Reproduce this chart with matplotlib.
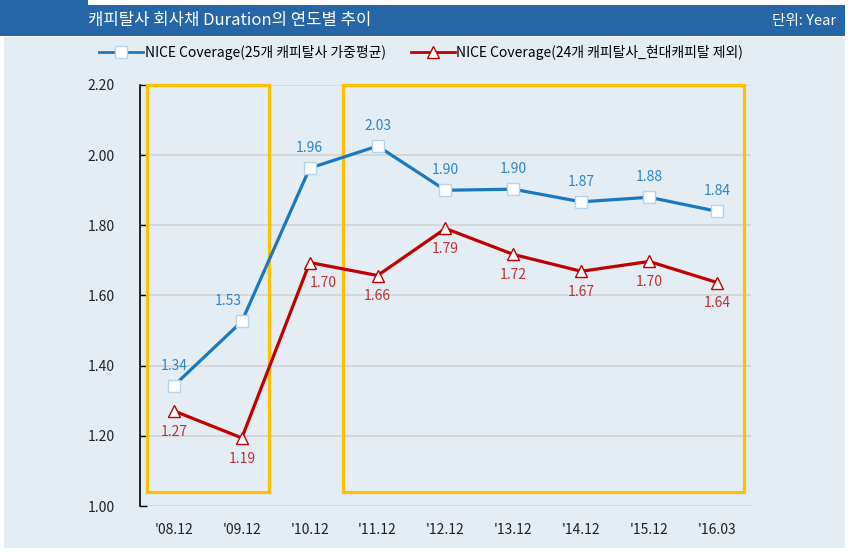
import matplotlib
matplotlib.use("Agg")
import matplotlib.pyplot as plt
from matplotlib.patches import Rectangle

plt.rcParams['font.family'] = ['Noto Sans CJK KR', 'DejaVu Sans']

categories = ["'08.12", "'09.12", "'10.12", "'11.12", "'12.12", "'13.12", "'14.12", "'15.12", "'16.03"]
avg25 = [1.34, 1.53, 1.96, 2.03, 1.90, 1.90, 1.87, 1.88, 1.84]
excl24 = [1.27, 1.19, 1.70, 1.66, 1.79, 1.72, 1.67, 1.70, 1.64]
avg25_pos = [1.343, 1.526, 1.963, 2.026, 1.900, 1.903, 1.867, 1.880, 1.840]
excl24_pos = [1.271, 1.194, 1.694, 1.657, 1.791, 1.717, 1.669, 1.697, 1.637]
yticks = [1.00, 1.20, 1.40, 1.60, 1.80, 2.00, 2.20]
label25 = "NICE Coverage(25개 캐피탈사 가중평균)"
label24 = "NICE Coverage(24개 캐피탈사_현대캐피탈 제외)"
title = "캐피탈사 회사채 Duration의 연도별 추이"
unit = "단위: Year"

W, H = 860, 556
fig = plt.figure(figsize=(W / 100, H / 100), dpi=100)
fig.patch.set_facecolor('white')

def px(x0, y0, x1, y1):
    return (x0 / W, 1 - y1 / H, (x1 - x0) / W, (y1 - y0) / H)

BLUEBAR = '#2766a6'
BG = '#e4ecf4'
# background panels
fig.patches.append(Rectangle((4 / W, 1 - 548 / H), (845 - 4) / W, (548 - 37) / H,
                             transform=fig.transFigure, facecolor=BG, edgecolor='none', zorder=-2))
fig.patches.append(Rectangle((0, 1 - 36 / H), 845 / W, 31 / H,
                             transform=fig.transFigure, facecolor=BLUEBAR, edgecolor='none', zorder=-1))
fig.patches.append(Rectangle((0, 1 - 5 / H), 88 / W, 5 / H,
                             transform=fig.transFigure, facecolor=BLUEBAR, edgecolor='none', zorder=-1))
fig.text(88 / W, 1 - 21 / H, title, color='white', fontsize=12, va='center', ha='left')
fig.text(836 / W, 1 - 21 / H, unit, color='white', fontsize=10.5, va='center', ha='right')

ax = fig.add_axes(px(140, 85, 751, 506))
ax.set_zorder(2)
ax.set_facecolor('none')
x = list(range(len(categories)))

LBLUE = '#1a78c2'
LRED = '#c00000'
ax.plot(x, avg25_pos, color=LBLUE, lw=2.3, marker='s', markersize=8,
        markerfacecolor='white', markeredgecolor='#b5d4ef', markeredgewidth=1.0,
        label=label25, zorder=5, clip_on=False)
ax.plot(x, excl24_pos, color=LRED, lw=2.3, marker='^', markersize=9,
        markerfacecolor='white', markeredgecolor=LRED, markeredgewidth=1.0,
        label=label24, zorder=5, clip_on=False)

for i, (v, p) in enumerate(zip(avg25, avg25_pos)):
    dx = -9.5 if i == 1 else 0
    ax.annotate(f"{v:.2f}", (i, p), xytext=(dx, 14.5), textcoords='offset points',
                ha='center', va='center', fontsize=10, color='#2e86c8', zorder=6)
for i, (v, p) in enumerate(zip(excl24, excl24_pos)):
    dx = 10 if i == 2 else 0
    ax.annotate(f"{v:.2f}", (i, p), xytext=(dx, -15), textcoords='offset points',
                ha='center', va='center', fontsize=10, color='#c0313a', zorder=6)

# highlight boxes
YEL = '#ffc000'
ax.add_patch(Rectangle((-0.40, 1.04), 1.80, 1.16, fill=False, edgecolor=YEL, lw=2.3, zorder=4, clip_on=False))
ax.add_patch(Rectangle((2.49, 1.04), 5.91, 1.16, fill=False, edgecolor=YEL, lw=2.3, zorder=4, clip_on=False))

ax.set_xlim(-0.5, 8.5)
ax.set_ylim(1.0, 2.2)
ax.set_yticks(yticks)
ax.set_yticklabels([f"{t:.2f}" for t in yticks], fontsize=10, color='#222222')
ax.set_xticks(x)
ax.set_xticklabels(categories, fontsize=10, color='#222222')
ax.grid(axis='y', color='#d3d3d3', lw=1.2)
ax.set_axisbelow(True)
for s in ['top', 'right', 'bottom']:
    ax.spines[s].set_visible(False)
ax.spines['left'].set_color('black')
ax.spines['left'].set_linewidth(1.2)
ax.tick_params(axis='y', direction='in', length=5, width=1.0, pad=18)
ax.tick_params(axis='x', length=0, pad=12)

leg = fig.legend(loc='center', bbox_to_anchor=(421 / W, 1 - 52 / H), ncol=2, frameon=False,
                 fontsize=10, handlelength=3.2, handletextpad=0.1, columnspacing=1.8)
leg.set_zorder(3)
for h in leg.get_lines():
    h.set_linewidth(2.0)

fig.savefig('out.png', dpi=100, facecolor='white')
